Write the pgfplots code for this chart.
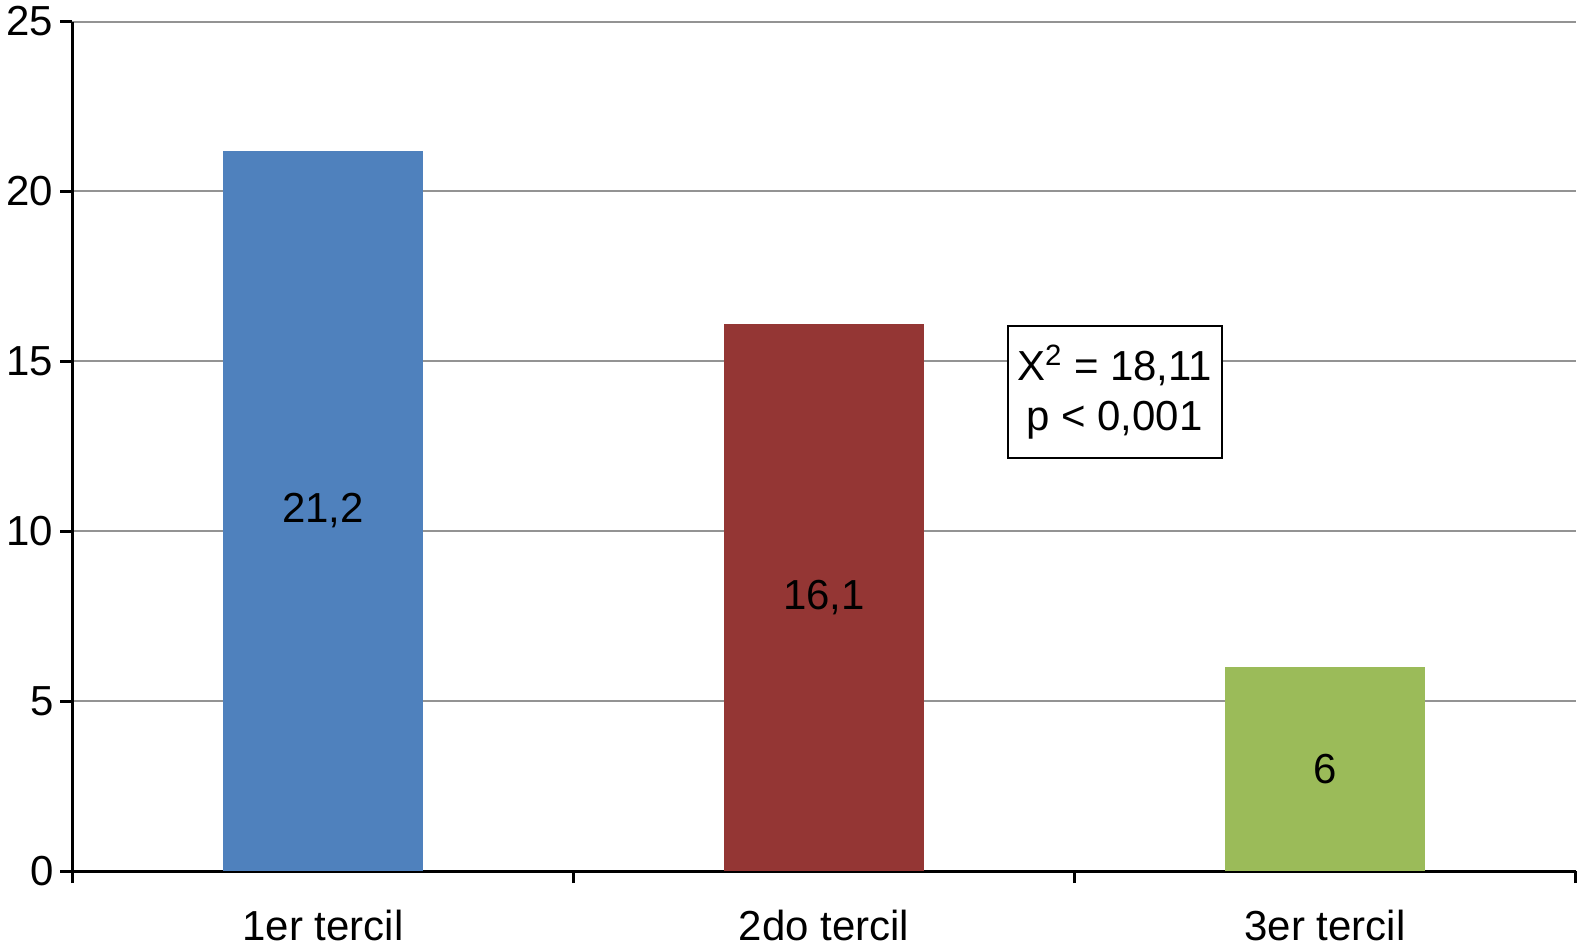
\documentclass[border=0pt]{standalone}
\usepackage{pgfplots}
\pgfplotsset{compat=1.18}
\usepackage{fontspec}
\setmainfont{Liberation Sans}
\definecolor{cblue}{HTML}{4F81BD}
\definecolor{cred}{HTML}{943634}
\definecolor{cgreen}{HTML}{9BBB59}
\begin{document}
\begin{tikzpicture}
\begin{axis}[
  scale only axis,
  width=752pt, height=425pt,
  xmin=-0.5, xmax=2.5, ymin=0, ymax=25,
  axis x line*=bottom, axis y line*=left,
  axis line style={-, line width=1.5pt, black},
  xtick={-0.5,0.5,1.5,2.5},
  x tick label as interval,
  xticklabels={1er tercil,2do tercil,3er tercil},
  ytick={0,5,10,15,20,25},
  tick align=outside,
  major tick length=6pt,
  tick style={black, line width=1.5pt},
  ymajorgrids,
  grid style={gray!85, line width=1pt},
  /pgf/number format/assume math mode=true,
  tick label style={font=\fontsize{21}{25}\selectfont},
  xticklabel style={yshift=-10pt},
  yticklabel style={xshift=0pt},
  ybar, bar width=0.4, bar shift=0pt,
]
\addplot[fill=cblue, draw=none] coordinates {(0,21.2)};
\addplot[fill=cred, draw=none] coordinates {(1,16.1)};
\addplot[fill=cgreen, draw=none] coordinates {(2,6)};
\node[font=\fontsize{21}{25}\selectfont] at (axis cs:0,10.6) {21,2};
\node[font=\fontsize{21}{25}\selectfont] at (axis cs:1,8.05) {16,1};
\node[font=\fontsize{21}{25}\selectfont] at (axis cs:2,3) {6};
\node[draw=black, line width=1pt, fill=white, align=center, font=\fontsize{21}{25}\selectfont, inner sep=4pt, minimum width=107pt, minimum height=66pt] at (axis cs:1.58,14.1) {X$^{\mathrm{2}}$ = 18,11\\p < 0,001};
\end{axis}
\end{tikzpicture}
\end{document}
